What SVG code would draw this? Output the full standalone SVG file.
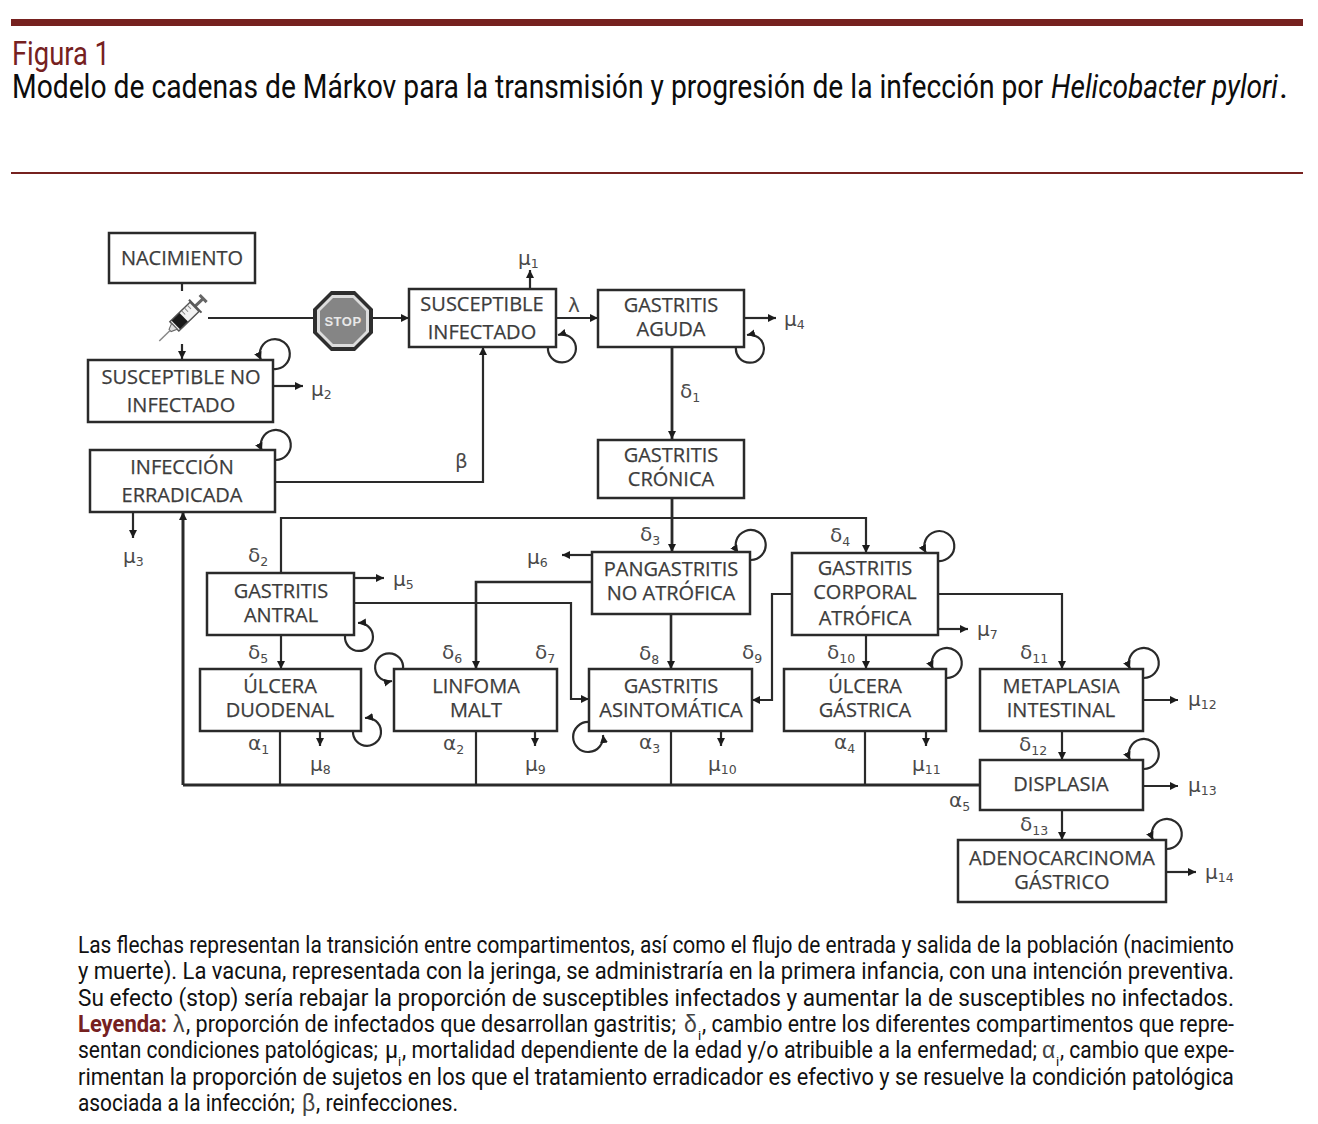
<svg xmlns="http://www.w3.org/2000/svg" width="1318" height="1124" viewBox="0 0 1318 1124">
<style>
.bg{fill:#fff}
.rule{fill:#76211f}
.cap{font-family:"Roboto","Liberation Sans",sans-serif;font-size:23px;fill:#111}
.gr{font-family:"Liberation Sans",sans-serif;font-size:23px;fill:#444}
.ci{font-size:13px}
.title{font-family:"Roboto","Liberation Sans",sans-serif;font-size:34px;fill:#0c0c0c}
.box{fill:#fff;stroke:#2a2a2a;stroke-width:2.500}
.nt{font-family:"Open Sans","Liberation Sans",sans-serif;font-size:20px;fill:#3c3c3c;stroke:#3c3c3c;stroke-width:.25;text-anchor:middle}
.sym{font-family:"DejaVu Sans",sans-serif;font-size:20px;fill:#4a4a4a}
.sub{font-size:12.500px}
.c{fill:none;stroke:#2a2a2a;stroke-width:2.200}
.a{marker-end:url(#arr)}
</style>
<defs>
<marker id="arr" markerUnits="userSpaceOnUse" markerWidth="9" markerHeight="9" refX="8" refY="4" orient="auto"><path d="M0 0L8 4L0 8Z" fill="#1c1c1c"/></marker>
</defs>
<rect class="bg" width="1318" height="1124"/>
<rect class="rule" x="11" y="19" width="1292" height="7"/>
<rect class="rule" x="11" y="172" width="1292" height="2"/>
<text transform="translate(12 65) scale(.82 1)" class="title" style="fill:#76211f" textLength="119.500" lengthAdjust="spacingAndGlyphs">Figura 1</text>
<text transform="translate(12 98) scale(.82 1)" class="title" textLength="1257.300" lengthAdjust="spacingAndGlyphs">Modelo de cadenas de Márkov para la transmisión y progresión de la infección por</text>
<text transform="translate(1051 98) scale(.82 1)" class="title" font-style="italic" textLength="276.800" lengthAdjust="spacingAndGlyphs">Helicobacter pylori</text>
<text x="1279" y="98" class="title">.</text>

<g id="connectors">
<path class="c" d="M182 283V291"/>
<path class="c a" d="M182 344V359"/>
<path class="c" d="M208 318H313"/>
<path class="c a" d="M373 318H409"/>
<path class="c a" d="M530 289V270"/>
<path class="c a" d="M556 318H598"/>
<path class="c a" d="M744 318H776"/>
<path class="c a" d="M672 347V439" style="stroke-width:2.800"/>
<path class="c a" d="M672 498V552" style="stroke-width:2.800"/>
<path class="c a" d="M281 573V518H866V553"/>
<path class="c a" d="M275 482H483V347"/>
<path class="c a" d="M133 512V538"/>
<path class="c a" d="M273 386H303"/>
<path class="c a" d="M592 555H562"/>
<path class="c a" d="M592 582H476V669" style="stroke-width:2.600"/>
<path class="c a" d="M354 578H384"/>
<path class="c a" d="M354 603H571V699H589"/>
<path class="c a" d="M792 594H772V700H752"/>
<path class="c a" d="M938 594H1062V669"/>
<path class="c a" d="M938 629H968"/>
<path class="c a" d="M866 635V669"/>
<path class="c a" d="M671 614V669" style="stroke-width:2.600"/>
<path class="c a" d="M281 635V669"/>
<path class="c" d="M980 785H183" style="stroke-width:3"/>
<path class="c a" d="M183 785V512" style="stroke-width:3"/>
<path class="c" d="M280 731V785M476 731V785M671 731V785M865 731V785"/>
<path class="c a" d="M320 731V746"/>
<path class="c a" d="M535 731V746"/>
<path class="c a" d="M721 731V746"/>
<path class="c a" d="M926 731V746"/>
<path class="c a" d="M1143 700H1178"/>
<path class="c a" d="M1062 731V760"/>
<path class="c a" d="M1143 786H1178"/>
<path class="c a" d="M1062 810V840"/>
<path class="c a" d="M1166 872H1196"/>
<path class="c a" d="M273 369A15 15 0 1 0 261 360"/>
<path class="c a" d="M275 460A15 15 0 1 0 262 451"/>
<path class="c a" d="M548 347A14 14 0 1 0 558 335"/>
<path class="c a" d="M736 347A14 14 0 1 0 747 335"/>
<path class="c a" d="M750 560A15 15 0 1 0 738 553"/>
<path class="c a" d="M938 561A15 15 0 1 0 926 553"/>
<path class="c a" d="M345 636A14 14 0 1 0 358 623"/>
<path class="c a" d="M353 731A14 14 0 1 0 365 718"/>
<path class="c a" d="M403 669A14 14 0 1 0 392 681"/>
<path class="c a" d="M589 722A15 15 0 1 0 603 735"/>
<path class="c a" d="M946 678A15 15 0 1 0 933 669"/>
<path class="c a" d="M1143 678A15 15 0 1 0 1130 669"/>
<path class="c a" d="M1143 769A15 15 0 1 0 1130 760"/>
<path class="c a" d="M1166 849A15 15 0 1 0 1153 840"/>
</g>

<g id="n-nacimiento"><rect class="box" x="109" y="233" width="146" height="50"/><text class="nt" x="182" y="265">NACIMIENTO</text></g>
<g id="n-vacuna" transform="translate(183 318) rotate(46)">
<path d="M-5 -28H5M0 -28V-17" stroke="#666" stroke-width="3" fill="none"/>
<path d="M-9 -17H9" stroke="#555" stroke-width="2"/>
<rect x="-6.500" y="-16" width="13" height="28" fill="#f2f2f2" stroke="#555" stroke-width="1.500"/>
<path d="M-6 -12H-1M-6 -8H-1M-6 -4H-1" stroke="#888" stroke-width="1"/>
<rect x="-6" y="-1" width="12" height="11" fill="#1a1a1a"/>
<path d="M-4 12H4L1.500 18H-1.500Z" fill="#ddd" stroke="#666"/>
<path d="M0 18V33" stroke="#888" stroke-width="1.500"/>
</g>
<g id="n-stop">
<polygon points="331,291 355,291 373,309 373,333 355,351 331,351 313,333 313,309" fill="#2e2e2e"/>
<polygon points="332,295 354,295 369,310 369,332 354,347 332,347 317,332 317,310" fill="#ddd"/>
<polygon points="333,298 353,298 366,311 366,331 353,344 333,344 320,331 320,311" fill="#858585"/>
<text x="343" y="326" text-anchor="middle" font-family="Liberation Sans, sans-serif" font-weight="700" font-size="13" letter-spacing=".5" fill="#e8e8e8">STOP</text>
</g>
<g id="n-susc-no"><rect class="box" x="88" y="360" width="185" height="62"/><text class="nt" x="181" y="384">SUSCEPTIBLE NO</text><text class="nt" x="181" y="412">INFECTADO</text></g>
<g id="n-erradicada"><rect class="box" x="90" y="450" width="185" height="62"/><text class="nt" x="182" y="474">INFECCIÓN</text><text class="nt" x="182" y="502">ERRADICADA</text></g>
<g id="n-susc-inf"><rect class="box" x="409" y="289" width="147" height="58"/><text class="nt" x="482" y="311">SUSCEPTIBLE</text><text class="nt" x="482" y="339">INFECTADO</text></g>
<g id="n-aguda"><rect class="box" x="598" y="290" width="146" height="57"/><text class="nt" x="671" y="312">GASTRITIS</text><text class="nt" x="671" y="336">AGUDA</text></g>
<g id="n-cronica"><rect class="box" x="598" y="440" width="146" height="58"/><text class="nt" x="671" y="462">GASTRITIS</text><text class="nt" x="671" y="486">CRÓNICA</text></g>
<g id="n-pangastritis"><rect class="box" x="592" y="552" width="158" height="62"/><text class="nt" x="671" y="576">PANGASTRITIS</text><text class="nt" x="671" y="600">NO ATRÓFICA</text></g>
<g id="n-corporal"><rect class="box" x="792" y="553" width="146" height="82"/><text class="nt" x="865" y="575">GASTRITIS</text><text class="nt" x="865" y="599">CORPORAL</text><text class="nt" x="865" y="625">ATRÓFICA</text></g>
<g id="n-antral"><rect class="box" x="207" y="573" width="147" height="62"/><text class="nt" x="281" y="598">GASTRITIS</text><text class="nt" x="281" y="622">ANTRAL</text></g>
<g id="n-duodenal"><rect class="box" x="200" y="669" width="161" height="62"/><text class="nt" x="280" y="693">ÚLCERA</text><text class="nt" x="280" y="717">DUODENAL</text></g>
<g id="n-linfoma"><rect class="box" x="394" y="669" width="163" height="62"/><text class="nt" x="476" y="693">LINFOMA</text><text class="nt" x="476" y="717">MALT</text></g>
<g id="n-asintomatica"><rect class="box" x="589" y="669" width="163" height="62"/><text class="nt" x="671" y="693">GASTRITIS</text><text class="nt" x="671" y="717">ASINTOMÁTICA</text></g>
<g id="n-gastrica"><rect class="box" x="784" y="669" width="162" height="62"/><text class="nt" x="865" y="693">ÚLCERA</text><text class="nt" x="865" y="717">GÁSTRICA</text></g>
<g id="n-metaplasia"><rect class="box" x="980" y="669" width="163" height="62"/><text class="nt" x="1061" y="693">METAPLASIA</text><text class="nt" x="1061" y="717">INTESTINAL</text></g>
<g id="n-displasia"><rect class="box" x="980" y="760" width="163" height="50"/><text class="nt" x="1061" y="791">DISPLASIA</text></g>
<g id="n-adeno"><rect class="box" x="958" y="840" width="208" height="62"/><text class="nt" x="1062" y="865">ADENOCARCINOMA</text><text class="nt" x="1062" y="889">GÁSTRICO</text></g>

<g id="labels" class="sym">
<text x="518" y="265">μ<tspan class="sub" dy="3">1</tspan></text>
<text x="311" y="396">μ<tspan class="sub" dy="3">2</tspan></text>
<text x="123" y="563">μ<tspan class="sub" dy="3">3</tspan></text>
<text x="784" y="326">μ<tspan class="sub" dy="3">4</tspan></text>
<text x="393" y="586">μ<tspan class="sub" dy="3">5</tspan></text>
<text x="527" y="564">μ<tspan class="sub" dy="3">6</tspan></text>
<text x="977" y="636">μ<tspan class="sub" dy="3">7</tspan></text>
<text x="310" y="771">μ<tspan class="sub" dy="3">8</tspan></text>
<text x="525" y="771">μ<tspan class="sub" dy="3">9</tspan></text>
<text x="708" y="771">μ<tspan class="sub" dy="3">10</tspan></text>
<text x="912" y="771">μ<tspan class="sub" dy="3">11</tspan></text>
<text x="1188" y="706">μ<tspan class="sub" dy="3">12</tspan></text>
<text x="1188" y="792">μ<tspan class="sub" dy="3">13</tspan></text>
<text x="1205" y="879">μ<tspan class="sub" dy="3">14</tspan></text>
<text x="568" y="312">λ</text>
<text x="455" y="468">β</text>
<text x="680" y="398">δ<tspan class="sub" dy="4">1</tspan></text>
<text x="248" y="562">δ<tspan class="sub" dy="4">2</tspan></text>
<text x="640" y="541">δ<tspan class="sub" dy="4">3</tspan></text>
<text x="830" y="542">δ<tspan class="sub" dy="4">4</tspan></text>
<text x="248" y="659">δ<tspan class="sub" dy="4">5</tspan></text>
<text x="442" y="659">δ<tspan class="sub" dy="4">6</tspan></text>
<text x="535" y="659">δ<tspan class="sub" dy="4">7</tspan></text>
<text x="639" y="660">δ<tspan class="sub" dy="4">8</tspan></text>
<text x="742" y="659">δ<tspan class="sub" dy="4">9</tspan></text>
<text x="827" y="659">δ<tspan class="sub" dy="4">10</tspan></text>
<text x="1020" y="659">δ<tspan class="sub" dy="4">11</tspan></text>
<text x="1019" y="751">δ<tspan class="sub" dy="4">12</tspan></text>
<text x="1020" y="831">δ<tspan class="sub" dy="4">13</tspan></text>
<text x="248" y="750">α<tspan class="sub" dy="4">1</tspan></text>
<text x="443" y="750">α<tspan class="sub" dy="4">2</tspan></text>
<text x="639" y="749">α<tspan class="sub" dy="4">3</tspan></text>
<text x="834" y="749">α<tspan class="sub" dy="4">4</tspan></text>
<text x="949" y="807">α<tspan class="sub" dy="4">5</tspan></text>
</g>

<g id="caption" class="cap">
<text transform="translate(78 953) scale(.9 1)" textLength="1284.400" lengthAdjust="spacingAndGlyphs">Las flechas representan la transición entre compartimentos, así como el flujo de entrada y salida de la población (nacimiento</text>
<text transform="translate(78 979) scale(.9 1)" textLength="1284.400" lengthAdjust="spacingAndGlyphs">y muerte). La vacuna, representada con la jeringa, se administraría en la primera infancia, con una intención preventiva.</text>
<text transform="translate(78 1006) scale(.9 1)" textLength="1284.400" lengthAdjust="spacingAndGlyphs">Su efecto (stop) sería rebajar la proporción de susceptibles infectados y aumentar la de susceptibles no infectados.</text>
<text transform="translate(78 1032) scale(.9 1)" font-weight="700" fill="#76211f" textLength="98.900" lengthAdjust="spacingAndGlyphs">Leyenda:</text>
<text x="173" y="1032" class="gr">λ</text>
<text transform="translate(186 1032) scale(.9 1)" textLength="544.400" lengthAdjust="spacingAndGlyphs">, proporción de infectados que desarrollan gastritis;</text>
<text x="684" y="1032" class="gr">δ</text>
<text x="698" y="1040" class="ci">i</text>
<text transform="translate(702 1032) scale(.9 1)" textLength="591.100" lengthAdjust="spacingAndGlyphs">, cambio entre los diferentes compartimentos que repre-</text>
<text transform="translate(78 1058) scale(.9 1)" textLength="333.300" lengthAdjust="spacingAndGlyphs">sentan condiciones patológicas;</text>
<text x="385" y="1058">μ</text>
<text x="398" y="1066" class="ci">i</text>
<text transform="translate(402 1058) scale(.9 1)" textLength="705.600" lengthAdjust="spacingAndGlyphs">, mortalidad dependiente de la edad y/o atribuible a la enfermedad;</text>
<text x="1042" y="1058" class="gr">α</text>
<text x="1056" y="1066" class="ci">i</text>
<text transform="translate(1060 1058) scale(.9 1)" textLength="193.300" lengthAdjust="spacingAndGlyphs">, cambio que expe-</text>
<text transform="translate(78 1085) scale(.9 1)" textLength="1284.400" lengthAdjust="spacingAndGlyphs">rimentan la proporción de sujetos en los que el tratamiento erradicador es efectivo y se resuelve la condición patológica</text>
<text transform="translate(78 1111) scale(.9 1)" textLength="241.100" lengthAdjust="spacingAndGlyphs">asociada a la infección;</text>
<text x="302" y="1111" class="gr">β</text>
<text transform="translate(316 1111) scale(.9 1)" textLength="157.800" lengthAdjust="spacingAndGlyphs">, reinfecciones.</text>
</g>
</svg>
